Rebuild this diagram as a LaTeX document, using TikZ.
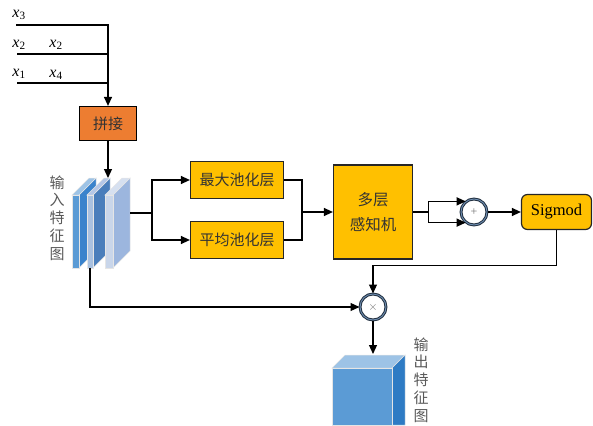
\documentclass[tikz,border=0pt]{standalone}
\usepackage{fontspec}
\setmainfont{Liberation Serif}
\newfontfamily\cjk{Noto Sans CJK SC}
\usetikzlibrary{arrows.meta,positioning,calc}
\definecolor{amyellow}{HTML}{FFC000}
\definecolor{amorange}{HTML}{ED7D31}
\definecolor{amring}{HTML}{1F2D3D}
\definecolor{amcore}{HTML}{6F8FB3}
\tikzset{
  flow/.style={-{Triangle[length=9pt,width=8pt]}, line width=1.2pt, draw=black},
  wire/.style={line width=1.2pt, draw=black},
  catbox/.style={draw=black, line width=1.2pt, fill=amorange, minimum width=57pt,
    minimum height=34pt, inner sep=0pt, text=black!80, font=\cjk\fontsize{15}{18}\selectfont},
  poolbox/.style={draw=black!85, line width=1.2pt, fill=amyellow, minimum width=93pt,
    minimum height=37pt, inner sep=0pt, text=black!80, font=\cjk\fontsize{15}{18}\selectfont},
  mlpbox/.style={poolbox, minimum width=79pt, minimum height=94pt, align=center,
    font=\cjk\fontsize{15.5}{25}\selectfont},
  sigbox/.style={draw=black!85, line width=1.2pt, fill=amyellow, rounded corners=6pt,
    minimum width=70pt, minimum height=35pt, inner sep=0pt, font=\fontsize{16.5}{20}\selectfont},
  opcircle/.style={circle, draw=amring, line width=1pt, double=amcore, double distance=0.9pt,
    fill=white, minimum size=26pt, inner sep=0pt, text=black!55, font=\fontsize{12}{12}\selectfont},
  invar/.style={inner sep=0pt, font=\fontsize{16}{18}\selectfont},
  vtext/.style={align=center, inner sep=0pt, text=black!65, font=\cjk\fontsize{15}{17.8}\selectfont},
  layer/.style={draw=white!80!gray, line width=0.5pt}
}

\begin{document}
\begin{tikzpicture}[x=1pt,y=-1pt]
  \useasboundingbox (0,0) rectangle (593,425);

  % inputs
  \node[invar] (x3) at (19,15) {\textit{x}\textsubscript{3}};
  \node[invar] (x2) at (19,45) {\textit{x}\textsubscript{2}};
  \node[invar] (x2b) at (56,45) {\textit{x}\textsubscript{2}};
  \node[invar] (x1) at (19,74) {\textit{x}\textsubscript{1}};
  \node[invar] (x4) at (56,75) {\textit{x}\textsubscript{4}};
  \coordinate (in3) at (16,25);
  \coordinate (in2) at (17,54);
  \coordinate (in1) at (17,83);

  \node[catbox] (cat) at (108,123.5) {拼接};

  \draw[flow] (in3) -| (cat.north);
  \draw[wire] (in2) -- (in2 -| cat.north);
  \draw[wire] (in1) -- (in1 -| cat.north);

  % input feature map, three slices
  \foreach \x/\w/\cf/\cs/\ct in {72/7/5B9BD5/3A83CC/9DC3E6,
                                 87/6/A9C1E0/4A7EBB/B4C7E7,
                                 105/8/C9D6EA/9CB6DE/D6E0F0}{
    \definecolor{cf}{HTML}{\cf}
    \definecolor{cs}{HTML}{\cs}
    \definecolor{ct}{HTML}{\ct}
    \filldraw[layer, fill=cs] (\x+\w,195) -- (\x+\w+17,178) -- (\x+\w+17,251) -- (\x+\w,268) -- cycle;
    \filldraw[layer, fill=ct] (\x,195) -- (\x+17,178) -- (\x+\w+17,178) -- (\x+\w,195) -- cycle;
    \filldraw[layer, fill=cf] (\x,195) rectangle (\x+\w,268);
  }
  \coordinate (fmtop) at (108,178);
  \coordinate (fmout) at (130,213);
  \coordinate (fmbot) at (90,268);
  \node[vtext] (inlbl) at (57,218) {输\\入\\特\\征\\图};

  \draw[flow] (cat.south) -- (fmtop);

  % pooling and MLP
  \node[poolbox] (maxp) at (237,180) {最大池化层};
  \node[poolbox] (avgp) at (237,240) {平均池化层};
  \node[mlpbox] (mlp) at (373,212) {多层\\感知机};

  \draw[wire] (fmout) -- ++(22,0) coordinate (split1);
  \draw[flow] (split1) |- (maxp.west);
  \draw[flow] (split1) |- (avgp.west);
  \coordinate (join1) at (302,212);
  \draw[wire] (maxp.east) -| (join1);
  \draw[wire] (avgp.east) -| (join1);
  \draw[flow] (join1) -- (mlp.west);

  % sum and sigmoid
  \node[opcircle] (add) at (474,212) {+};
  \node[sigbox] (sig) at (556.5,212) {Sigmod};

  \draw[wire] (mlp.east) -- ++(15,0) coordinate (split2);
  \draw[flow] (split2) |- (add.128);
  \draw[flow] (split2) |- (add.232);
  \draw[flow] (add.east) -- (sig.west);

  % weighting
  \node[opcircle] (mul) at (373,307) {$\times$};
  \draw[flow] (sig.south) -- ++(0,35) -| (mul.north);
  \draw[flow] (fmbot) |- (mul.west);

  % output feature map
  \filldraw[layer, fill={rgb,255:red,157;green,195;blue,230}]
    (332,368) -- (345,355) -- (405,355) -- (392,368) -- cycle;
  \filldraw[layer, fill={rgb,255:red,46;green,123;blue,196}]
    (392,368) -- (405,355) -- (405,425) -- (392,425) -- cycle;
  \filldraw[layer, fill={rgb,255:red,91;green,155;blue,213}]
    (332,368) rectangle (392,425);
  \coordinate (cubetop) at (373,354);
  \node[vtext] (outlbl) at (421,380) {输\\出\\特\\征\\图};

  \draw[flow] (mul.south) -- (cubetop);
\end{tikzpicture}
\end{document}
